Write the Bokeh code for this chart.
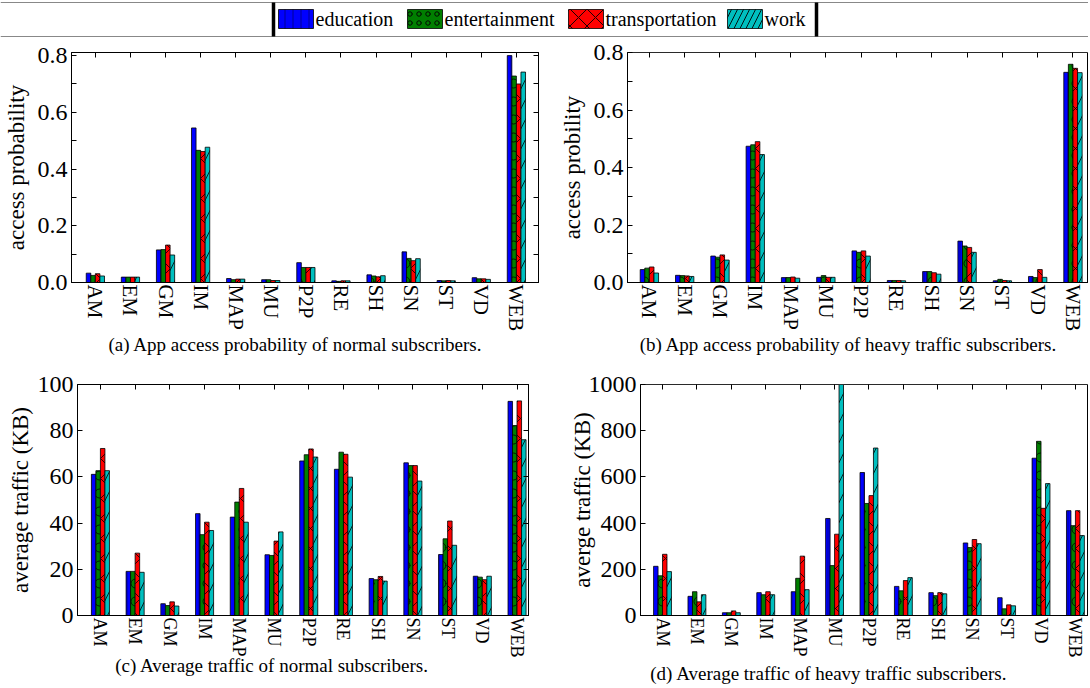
from bokeh.plotting import figure
from bokeh.layouts import column, row
from bokeh.models import (Range1d, FixedTicker, LinearAxis, ColumnDataSource,
                          PrintfTickFormatter)
from bokeh.transform import dodge
from bokeh.embed import file_html
from bokeh.resources import INLINE
from bokeh.core.properties import value

# ---------------- data ----------------
apps = ["AM", "EM", "GM", "IM", "MAP", "MU", "P2P", "RE", "SH", "SN", "ST", "VD", "WEB"]
groups = ["education", "entertainment", "transportation", "work"]

# (a) app access probability, normal subscribers
prob_normal_education = [0.033, 0.019, 0.115, 0.545, 0.014, 0.010, 0.070, 0.006, 0.027, 0.108, 0.007, 0.017, 0.800]
prob_normal_entertainment = [0.025, 0.019, 0.116, 0.466, 0.010, 0.010, 0.053, 0.004, 0.023, 0.085, 0.006, 0.013, 0.728]
prob_normal_transportation = [0.031, 0.019, 0.132, 0.462, 0.012, 0.007, 0.053, 0.006, 0.020, 0.077, 0.007, 0.013, 0.700]
prob_normal_work = [0.023, 0.019, 0.097, 0.477, 0.012, 0.007, 0.053, 0.006, 0.024, 0.084, 0.006, 0.011, 0.742]

# (b) app access probability, heavy traffic subscribers
prob_heavy_education = [0.045, 0.025, 0.092, 0.474, 0.017, 0.018, 0.110, 0.007, 0.038, 0.144, 0.006, 0.021, 0.731]
prob_heavy_entertainment = [0.050, 0.024, 0.088, 0.479, 0.017, 0.024, 0.105, 0.007, 0.038, 0.127, 0.011, 0.017, 0.759]
prob_heavy_transportation = [0.054, 0.023, 0.096, 0.490, 0.019, 0.018, 0.110, 0.007, 0.034, 0.122, 0.007, 0.045, 0.745]
prob_heavy_work = [0.033, 0.021, 0.078, 0.445, 0.015, 0.018, 0.092, 0.006, 0.029, 0.105, 0.006, 0.018, 0.730]

# (c) average traffic (KB), normal subscribers
traffic_normal_education = [61.1, 19.1, 5.1, 44.1, 42.6, 26.3, 66.9, 63.3, 16.0, 66.1, 26.4, 17.0, 92.7]
traffic_normal_entertainment = [62.7, 19.1, 4.3, 35.0, 49.1, 26.0, 69.6, 70.7, 15.5, 64.9, 33.2, 16.6, 82.2]
traffic_normal_transportation = [72.3, 27.0, 5.9, 40.4, 55.0, 32.2, 72.1, 69.8, 16.9, 64.9, 40.9, 15.5, 92.9]
traffic_normal_work = [62.7, 18.7, 4.1, 36.8, 40.4, 36.2, 68.6, 59.9, 14.9, 58.2, 30.4, 17.0, 76.1]

# (d) average traffic (KB), heavy traffic subscribers
traffic_heavy_education = [213, 83, 12, 99, 103, 420, 619, 126, 99, 314, 77, 681, 454]
traffic_heavy_entertainment = [172, 103, 12, 90, 161, 216, 485, 107, 86, 294, 29, 754, 389]
traffic_heavy_transportation = [265, 59, 20, 103, 257, 352, 519, 151, 99, 329, 46, 464, 454]
traffic_heavy_work = [190, 90, 12, 90, 112, 1000, 725, 164, 94, 311, 42, 571, 346]

prob_ticks = [0.0, 0.2, 0.4, 0.6, 0.8]
prob_minor = [0.1, 0.3, 0.5, 0.7]
traffic_normal_ticks = [0, 20, 40, 60, 80, 100]
traffic_heavy_ticks = [0, 200, 400, 600, 800, 1000]

captions = ["(a)  App access probability of normal subscribers.",
            "(b)  App access probability of heavy traffic subscribers.",
            "(c)  Average traffic of normal subscribers.",
            "(d)  Average traffic of heavy traffic subscribers."]

# ---------------- style ----------------
FONT = "Liberation Serif, serif"
colors = ["#0000ff", "#007f00", "#ff0000", "#00bfbf"]
hatches = ["vertical_line", "ring", "diagonal_cross", "right_diagonal_line"]
hatch_colors = ["#00008b", "black", "black", "black"]
hatch_scales = [12, 18, 20, 20]
offsets = [-0.195, -0.065, 0.065, 0.195]
BAR_W = 0.13
TOTAL_W = 1088
NB = "\u00a0"


def make_panel(series, ylabel, ymax, yticks, yminor, fmt, xstart, xend,
               w, h, bl, br, bt, bb, dotted_top, right_axis, xlab_size,
               lab_standoff, caption, cap_pad, cap_standoff):
    p = figure(width=w, height=h, x_range=Range1d(xstart, xend),
               y_range=Range1d(0, ymax), output_backend="svg",
               toolbar_location=None, min_border_left=bl, min_border_right=br,
               min_border_top=bt, min_border_bottom=bb)
    p.xgrid.visible = False
    p.ygrid.visible = False
    p.outline_line_color = "black"

    data = dict(x=list(range(len(apps))))
    for g, s in zip(groups, series):
        data[g] = s
    src = ColumnDataSource(data)
    for g, off, c, ht, hc, hs in zip(groups, offsets, colors, hatches, hatch_colors, hatch_scales):
        p.vbar(x=dodge("x", off, range=None), top=g, width=BAR_W, source=src,
               fill_color=c, line_color="black", line_width=0.8,
               hatch_pattern=ht, hatch_color=hc, hatch_scale=hs, hatch_weight=0.8)

    xa = p.xaxis[0]
    xa.ticker = FixedTicker(ticks=list(range(len(apps))))
    xa.major_label_overrides = {i: a for i, a in enumerate(apps)}
    xa.major_label_orientation = "vertical"
    xa.major_tick_in = 0
    xa.major_tick_out = 0
    xa.minor_tick_line_color = None
    xa.axis_line_color = "black"
    xa.major_label_text_font = FONT
    xa.major_label_text_font_size = xlab_size
    xa.major_label_text_color = "black"
    xa.major_label_standoff = 2
    # the sub-figure caption is the x axis label; trailing non-breaking
    # spaces shift the centred caption a little to the left
    xa.axis_label = caption + NB * cap_pad
    xa.axis_label_text_font = FONT
    xa.axis_label_text_font_size = "19px"
    xa.axis_label_text_font_style = "normal"
    xa.axis_label_text_color = "black"
    xa.axis_label_standoff = cap_standoff

    ya = p.yaxis[0]
    ya.ticker = FixedTicker(ticks=yticks, minor_ticks=yminor)
    ya.formatter = PrintfTickFormatter(format=fmt)
    ya.major_tick_in = 5
    ya.major_tick_out = 0
    ya.minor_tick_in = 5
    ya.minor_tick_out = 0
    ya.axis_line_color = "black"
    ya.major_label_text_font = FONT
    ya.major_label_text_font_size = "24px"
    ya.major_label_text_color = "black"
    ya.major_label_standoff = 4
    ya.axis_label = ylabel
    ya.axis_label_text_font = FONT
    ya.axis_label_text_font_size = "23px"
    ya.axis_label_text_font_style = "normal"
    ya.axis_label_text_color = "black"
    ya.axis_label_standoff = lab_standoff

    top = LinearAxis(ticker=FixedTicker(ticks=list(range(len(apps)))),
                     major_label_text_font_size="1px", major_label_text_color=None,
                     major_label_standoff=0,
                     major_tick_in=5, major_tick_out=0,
                     minor_tick_line_color=None,
                     axis_line_color="#555555" if dotted_top else "black",
                     axis_line_dash="1 1" if dotted_top else "solid")
    p.add_layout(top, "above")

    if right_axis:
        ra = LinearAxis(ticker=FixedTicker(ticks=yticks, minor_ticks=yminor),
                        major_label_text_font_size="1px", major_label_text_color=None,
                        major_label_standoff=0,
                        major_tick_in=5, major_tick_out=0,
                        minor_tick_in=5, minor_tick_out=0,
                        axis_line_color="black")
        p.add_layout(ra, "right")
    return p


def strip(height):
    s = figure(width=TOTAL_W, height=height, x_range=Range1d(0, TOTAL_W),
               y_range=Range1d(height, 0), output_backend="svg",
               toolbar_location=None, x_axis_type=None, y_axis_type=None,
               min_border=0)
    s.outline_line_color = None
    s.xgrid.visible = False
    s.ygrid.visible = False
    return s


pa = make_panel([prob_normal_education, prob_normal_entertainment,
                 prob_normal_transportation, prob_normal_work],
                "access probability", 0.811, prob_ticks, prob_minor, "%.1f",
                -0.68, 12.63, 545, 320, 68, 7, 8, 74, False, True, "21px", 6,
                captions[0], 3, 0)

pb = make_panel([prob_heavy_education, prob_heavy_entertainment,
                 prob_heavy_transportation, prob_heavy_work],
                "access probility", 0.8, prob_ticks, prob_minor, "%.1f",
                -0.62, 12.44, 543, 320, 82, 0, 14, 74, True, False, "21px", 6,
                captions[1], 3, 0)

pc = make_panel([traffic_normal_education, traffic_normal_entertainment,
                 traffic_normal_transportation, traffic_normal_work],
                "average traffic (KB)", 100, traffic_normal_ticks, [], "%d",
                -0.66, 12.33, 545, 329, 77, 17, 24, 66, False, True, "18px", 2,
                captions[2], 12, -5)

pd_ = make_panel([traffic_heavy_education, traffic_heavy_entertainment,
                  traffic_heavy_transportation, traffic_heavy_work],
                 "averge traffic (KB)", 1000, traffic_heavy_ticks, [], "%d",
                 -0.64, 12.38, 543, 329, 95, 0, 26, 72, True, False, "18px", -9,
                 captions[3], 14, 3)

# ---------------- legend strip ----------------
leg = strip(38)
leg.segment(x0=[0, 0], y0=[2, 36], x1=[TOTAL_W, TOTAL_W], y1=[2, 36],
            line_color="#888888", line_width=1)
leg.segment(x0=[273, 816], y0=[2, 2], x1=[273, 816], y1=[36, 36],
            line_color="black", line_width=3.5)
sw_left = [278, 407, 568, 727]
for i in range(4):
    leg.quad(left=[sw_left[i]], right=[sw_left[i] + 35], top=[9], bottom=[28],
             fill_color=colors[i], line_color="black", line_width=0.8,
             hatch_pattern=hatches[i], hatch_color=hatch_colors[i],
             hatch_scale=[8, 9, 17, 12][i], hatch_weight=0.9)
leg.text(x=[s + 37 for s in sw_left], y=[18] * 4, text=groups, text_font=value(FONT),
         text_font_size="20px", text_baseline="middle", text_align="left",
         text_color="black")

layout = column(leg, row(pa, pb), row(pc, pd_))
open("out.html", "w").write(file_html(layout, INLINE))
